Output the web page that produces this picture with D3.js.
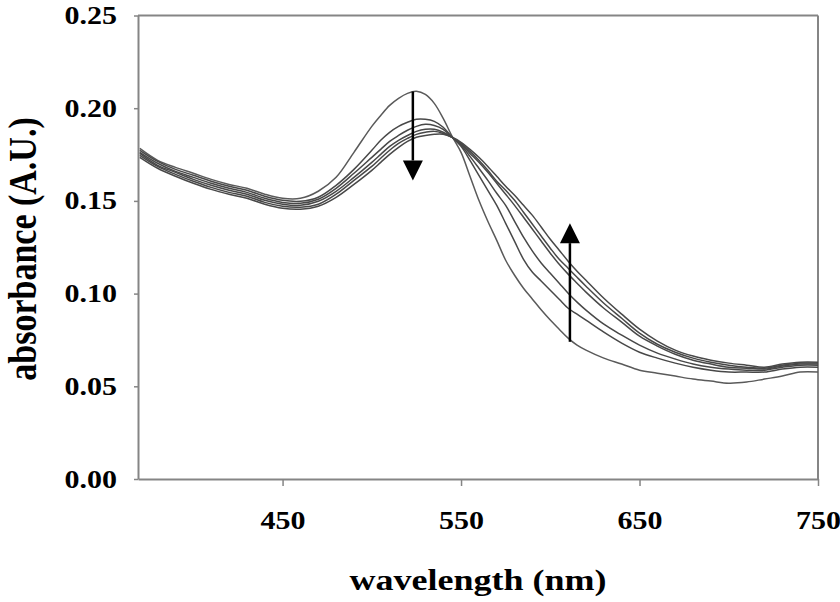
<!DOCTYPE html>
<html><head><meta charset="utf-8">
<script src="https://cdn.jsdelivr.net/npm/d3@7"></script>
<style>html,body{margin:0;padding:0;background:#fff;} svg{display:block;}</style>
</head><body><svg id="chart" width="840" height="602"></svg>
<script>
const wavelengths = [370,380,390,400,410,420,430,440,450,460,470,480,490,
  500,505,510,515,520,525,530,535,540,545,550,555,560,565,570,575,580,585,590,595,600,605,610,615,620,
  630,640,650,660,670,680,690,700,710,720,730,740,750];

const spectrum1 = [0.1783,0.1719,0.1681,0.1649,0.1616,0.1589,0.1568,0.1536,0.1514,0.1514,0.1552,0.1627,0.1762,
  0.1902,0.1961,0.2015,0.2053,0.2080,0.2091,0.2074,0.2026,0.1945,0.1848,0.1762,0.1633,0.1503,0.1390,0.1287,0.1180,0.1099,0.1029,0.0970,0.0911,0.0857,0.0808,0.0760,0.0722,0.0695,
  0.0652,0.0620,0.0587,0.0571,0.0555,0.0539,0.0528,0.0517,0.0523,0.0539,0.0555,0.0577,0.0577];
const spectrum2 = [0.1773,0.1713,0.1670,0.1638,0.1606,0.1579,0.1557,0.1525,0.1503,0.1498,0.1520,0.1584,0.1670,
  0.1773,0.1827,0.1870,0.1902,0.1924,0.1940,0.1940,0.1929,0.1897,0.1843,0.1794,0.1719,0.1638,0.1557,0.1476,0.1379,0.1282,0.1185,0.1115,0.1067,0.1018,0.0970,0.0921,0.0889,0.0857,
  0.0792,0.0733,0.0684,0.0652,0.0625,0.0603,0.0587,0.0577,0.0577,0.0577,0.0593,0.0603,0.0603];
const spectrum3 = [0.1762,0.1703,0.1659,0.1627,0.1595,0.1568,0.1546,0.1514,0.1492,0.1487,0.1509,0.1568,0.1649,
  0.1735,0.1778,0.1821,0.1853,0.1881,0.1902,0.1913,0.1907,0.1886,0.1843,0.1800,0.1740,0.1676,0.1611,0.1541,0.1476,0.1390,0.1304,0.1229,0.1164,0.1110,0.1056,0.1002,0.0954,0.0911,
  0.0835,0.0776,0.0722,0.0679,0.0647,0.0620,0.0603,0.0593,0.0587,0.0587,0.0603,0.0614,0.0614];
const spectrum4 = [0.1756,0.1692,0.1654,0.1616,0.1584,0.1557,0.1536,0.1503,0.1482,0.1476,0.1498,0.1552,0.1627,
  0.1708,0.1751,0.1794,0.1827,0.1853,0.1875,0.1886,0.1886,0.1870,0.1843,0.1805,0.1756,0.1708,0.1654,0.1595,0.1536,0.1476,0.1412,0.1347,0.1282,0.1218,0.1158,0.1105,0.1056,0.1008,
  0.0921,0.0846,0.0770,0.0717,0.0673,0.0641,0.0620,0.0603,0.0598,0.0593,0.0609,0.0620,0.0620];
const spectrum5 = [0.1746,0.1686,0.1643,0.1606,0.1573,0.1546,0.1525,0.1492,0.1471,0.1466,0.1482,0.1536,0.1611,
  0.1686,0.1730,0.1773,0.1810,0.1837,0.1859,0.1870,0.1875,0.1864,0.1843,0.1810,0.1767,0.1719,0.1665,0.1606,0.1557,0.1503,0.1439,0.1374,0.1309,0.1245,0.1185,0.1137,0.1088,0.1040,
  0.0948,0.0867,0.0787,0.0727,0.0684,0.0652,0.0630,0.0614,0.0603,0.0598,0.0614,0.0625,0.0625];
const spectrum6 = [0.1735,0.1676,0.1633,0.1595,0.1562,0.1536,0.1514,0.1482,0.1460,0.1455,0.1471,0.1519,0.1589,
  0.1665,0.1708,0.1751,0.1789,0.1821,0.1843,0.1853,0.1859,0.1859,0.1843,0.1816,0.1778,0.1735,0.1686,0.1633,0.1579,0.1530,0.1476,0.1422,0.1358,0.1293,0.1234,0.1175,0.1121,0.1072,
  0.0975,0.0889,0.0808,0.0744,0.0695,0.0663,0.0641,0.0625,0.0614,0.0603,0.0620,0.0630,0.0630];

const xTicks = [450, 550, 650, 750];
const yTicks = [0.00, 0.05, 0.10, 0.15, 0.20, 0.25];
const xDomain = [369, 750];
const yDomain = [0, 0.25];
// arrows: [wavelength, start absorbance, tip absorbance]
const arrowDown = [523, 0.209, 0.161];
const arrowUp = [611, 0.074, 0.138];

const xLabel = "wavelength (nm)";
const yLabel = "absorbance (A.U.)";

const svg = d3.select("#chart");
svg.append("rect").attr("width", 840).attr("height", 602).attr("fill", "#fff");

const x = d3.scaleLinear().domain(xDomain).range([138, 818]);
const y = d3.scaleLinear().domain(yDomain).range([479, 15.5]);
const axisColor = "#858585";
const fontFam = "'Liberation Serif', 'Times New Roman', serif";

// frame top and right
svg.append("line").attr("x1", x(xDomain[0])).attr("x2", x(xDomain[1]))
  .attr("y1", y(yDomain[1])).attr("y2", y(yDomain[1]))
  .attr("stroke", axisColor).attr("stroke-width", 2);
svg.append("line").attr("x1", x(xDomain[1])).attr("x2", x(xDomain[1]))
  .attr("y1", y(yDomain[1])).attr("y2", y(yDomain[0]))
  .attr("stroke", axisColor).attr("stroke-width", 2);

// y axis
const gy = svg.append("g").attr("transform", `translate(${x(xDomain[0])},0)`)
  .call(d3.axisLeft(y).tickValues(yTicks).tickFormat(d3.format(".2f")).tickSize(4).tickSizeOuter(0));
gy.select(".domain").attr("stroke", axisColor).attr("stroke-width", 2);
gy.selectAll(".tick line").attr("stroke", axisColor).attr("stroke-width", 1.5);
gy.selectAll(".tick text")
  .attr("x", 0)
  .attr("transform", "translate(-21,0) scale(1.2,1)")
  .style("font-family", fontFam).style("font-weight", "bold").style("font-size", "25px").attr("fill", "#000");

// x axis
const gx = svg.append("g").attr("transform", `translate(0,${y(0)})`)
  .call(d3.axisBottom(x).tickValues(xTicks).tickFormat(d3.format("d")).tickSize(7).tickSizeOuter(0));
gx.select(".domain").attr("stroke", axisColor).attr("stroke-width", 2);
gx.selectAll(".tick line").attr("stroke", axisColor).attr("stroke-width", 1.5);
gx.selectAll(".tick text")
  .attr("y", 50).attr("dy", 0)
  .attr("transform", "scale(1.2,1)")
  .style("font-family", fontFam).style("font-weight", "bold").style("font-size", "25px").attr("fill", "#000");

// spectra
const spectra = [spectrum1, spectrum2, spectrum3, spectrum4, spectrum5, spectrum6];
const line = d3.line()
  .x((d, i) => x(wavelengths[i]))
  .y(d => y(d))
  .curve(d3.curveCatmullRom.alpha(0.5));
svg.append("g").selectAll("path").data(spectra).join("path")
  .attr("d", d => line(d))
  .attr("fill", "none")
  .attr("stroke", (d, i) => i === 0 ? "#5a5a5a" : "#484848")
  .attr("stroke-width", 1.5);

// arrows
function drawArrow(a) {
  const xp = x(a[0]), y0 = y(a[1]), yt = y(a[2]);
  const dir = yt > y0 ? 1 : -1;
  const headLen = 20, halfW = 10;
  const yb = yt - dir * headLen;
  svg.append("line").attr("x1", xp).attr("x2", xp).attr("y1", y0).attr("y2", yb)
    .attr("stroke", "#000").attr("stroke-width", 2.5);
  svg.append("path")
    .attr("d", `M${xp},${yt} L${xp - halfW},${yb} L${xp + halfW},${yb} Z`)
    .attr("fill", "#000");
}
drawArrow(arrowDown);
drawArrow(arrowUp);

// axis titles
svg.append("text")
  .attr("transform", "translate(478,590) scale(1.2,1)")
  .attr("text-anchor", "middle")
  .style("font-family", fontFam).style("font-weight", "bold").style("font-size", "30px")
  .attr("fill", "#000").text(xLabel);
svg.append("text")
  .attr("transform", "translate(36,249) scale(1.15,1) rotate(-90)")
  .attr("text-anchor", "middle")
  .style("font-family", fontFam).style("font-weight", "bold").style("font-size", "34px")
  .attr("fill", "#000").text(yLabel);
</script>
</body></html>
